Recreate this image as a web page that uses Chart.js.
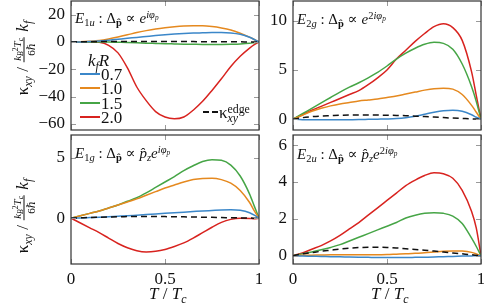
<!DOCTYPE html>
<html>
<head>
<meta charset="utf-8">
<script src="https://cdn.jsdelivr.net/npm/chart.js@4.4.0/dist/chart.umd.min.js"></script>
<style>
  html, body { margin: 0; padding: 0; background: #fff; }
  #wrap { position: relative; width: 484px; height: 307px; overflow: hidden;
          font-family: "Liberation Serif", "DejaVu Serif", serif; color: #111; }
  #wrap canvas { position: absolute; }
  .ov { position: absolute; white-space: nowrap; line-height: 1; }
  .ov sub, .ov sup { font-size: 70%; line-height: 0; position: relative; vertical-align: baseline; }
  .ov sub { top: 0.3em; }
  .ov sup { top: -0.45em; }
  .ttl { font-size: 15px; }
  .ylab { font-size: 17px; transform: translate(-50%, -50%) rotate(-90deg); }
  .frac { display: inline-block; vertical-align: middle; font-size: 11px; text-align: center; margin: 0 1px; }
  .frac .num { display: block; border-bottom: 1px solid #111; padding: 0 1px 1px; }
  .frac .den { display: block; padding-top: 1px; }
  .leg { font-size: 17px; }
  .legline { position: absolute; height: 2px; }
</style>
</head>
<body>
<div id="wrap">
  <canvas id="cTL" width="262" height="131" style="left:0;top:0"></canvas>
  <canvas id="cTR" width="222" height="131" style="left:262px;top:0"></canvas>
  <canvas id="cBL" width="262" height="173" style="left:0;top:134px"></canvas>
  <canvas id="cBR" width="222" height="173" style="left:262px;top:134px"></canvas>
</div>
<script>
// ---- data ----
const T = [0,0.05,0.1,0.15,0.2,0.25,0.3,0.35,0.4,0.45,0.5,0.55,0.6,0.65,0.7,0.75,0.8,0.85,0.9,0.95,0.975,1];
const KFR = ["0.7", "1.0", "1.5", "2.0"];
const COLORS = ["#3b87c9", "#e5891f", "#46a546", "#d8231f"];
const X_TICKS = [0, 0.5, 1];

// E1u
const e1u_07 = [0,0.05,0.3,0.7,1.3,2.0,2.7,3.3,4.0,4.7,5.3,5.8,6.2,6.5,6.7,6.9,6.9,6.6,5.6,3.4,1.8,0];
const e1u_10 = [0,0.1,0.5,1.1,2.2,3.6,5.2,6.9,8.3,9.5,10.4,11.1,11.6,11.8,11.8,11.3,10.3,8.8,6.4,3.5,1.8,0];
const e1u_15 = [0,0,0,-0.05,-0.1,-0.25,-0.4,-0.6,-0.9,-1.1,-1.3,-1.45,-1.6,-1.7,-1.8,-1.85,-1.8,-1.7,-1.5,-1.0,-0.5,0];
const e1u_20 = [0,0,0,-0.3,-2.5,-8,-19,-33,-43,-51,-55,-56.3,-55,-50,-43.5,-35.5,-27,-18,-10.5,-4.5,-2,0];
const e1u_edge = [0,0.1,0.2,0.25,0.3,0.33,0.35,0.36,0.36,0.35,0.33,0.3,0.27,0.24,0.2,0.17,0.13,0.1,0.06,0.03,0.01,0];
const e1u_yticks = [20, 0, -20, -40, -60];

// E2g
const e2g_07 = [0,-0.05,-0.06,-0.07,-0.07,-0.06,-0.05,-0.04,-0.02,0,0.02,0.06,0.15,0.3,0.5,0.7,0.85,0.9,0.8,0.45,0.2,0];
const e2g_10 = [0,0.4,0.8,1.1,1.35,1.55,1.7,1.85,1.95,2.05,2.2,2.35,2.55,2.75,2.95,3.1,3.15,3.05,2.5,1.4,0.7,0];
const e2g_15 = [0,0.55,1.1,1.65,2.2,2.75,3.25,3.7,4.2,4.75,5.4,6.1,6.7,7.2,7.6,7.8,7.7,7.1,5.6,3.3,1.8,0];
const e2g_20 = [0,0.45,0.9,1.3,1.7,2.1,2.5,2.9,3.5,4.2,5.0,6.1,7.0,7.9,8.7,9.4,9.7,9.3,8.0,4.8,2.4,0];
const e2g_edge = [0,0.15,0.25,0.32,0.36,0.4,0.42,0.43,0.43,0.42,0.4,0.38,0.35,0.3,0.26,0.21,0.16,0.11,0.07,0.03,0.015,0];
const e2g_yticks = [10, 5, 0];

// E1g
const e1g_07 = [0,0.02,0.05,0.08,0.12,0.16,0.2,0.25,0.3,0.35,0.4,0.45,0.5,0.55,0.6,0.64,0.68,0.7,0.65,0.45,0.25,0];
const e1g_10 = [0,0.2,0.4,0.6,0.85,1.1,1.35,1.6,1.9,2.2,2.5,2.75,3.0,3.2,3.3,3.32,3.2,2.9,2.3,1.3,0.6,0];
const e1g_15 = [0,0.2,0.4,0.6,0.85,1.1,1.4,1.7,2.1,2.55,3.0,3.45,3.95,4.35,4.7,4.85,4.8,4.4,3.5,2.0,1.0,0];
const e1g_20 = [0,-0.4,-0.8,-1.2,-1.65,-2.1,-2.45,-2.7,-2.8,-2.75,-2.6,-2.35,-2.05,-1.65,-1.2,-0.75,-0.35,-0.1,0,-0.02,-0.05,0];
const e1g_edge = [0,0.03,0.06,0.08,0.1,0.12,0.13,0.14,0.14,0.14,0.13,0.12,0.11,0.1,0.08,0.07,0.05,0.04,0.02,0.01,0.005,0];
const e1g_yticks = [5, 0];

// E2u
const e2u_07 = [0,-0.02,-0.03,-0.04,-0.05,-0.06,-0.07,-0.08,-0.09,-0.1,-0.1,-0.1,-0.1,-0.09,-0.08,-0.07,-0.05,-0.04,-0.02,-0.01,0,0];
const e2u_10 = [0,0.02,0.03,0.04,0.05,0.05,0.05,0.05,0.05,0.05,0.06,0.08,0.1,0.13,0.16,0.2,0.24,0.26,0.25,0.18,0.1,0];
const e2u_15 = [0,0.1,0.2,0.32,0.45,0.6,0.8,1.0,1.2,1.4,1.6,1.8,2.05,2.2,2.3,2.33,2.3,2.15,1.75,0.95,0.5,0];
const e2u_20 = [0,0.15,0.35,0.55,0.8,1.1,1.45,1.8,2.2,2.6,3.0,3.4,3.8,4.1,4.35,4.5,4.45,4.2,3.55,2.4,1.5,0];
const e2u_edge = [0,0.1,0.17,0.24,0.3,0.36,0.41,0.44,0.46,0.46,0.45,0.42,0.38,0.34,0.3,0.25,0.2,0.15,0.1,0.05,0.02,0];
const e2u_yticks = [6, 4, 2, 0];

// ---- helpers ----
const FONT = "'Liberation Serif', 'DejaVu Serif', serif";

// frame + inward ticks on all four sides (pgfplots look)
const framePlugin = {
  id: "frame",
  afterDraw(chart) {
    const { ctx, chartArea: a, scales } = chart;
    ctx.save();
    ctx.strokeStyle = "#9a9a9a";
    ctx.lineWidth = 1;
    const L = 5;
    ctx.beginPath();
    scales.x.ticks.forEach(t => {
      const px = Math.round(scales.x.getPixelForValue(t.value)) + 0.5;
      ctx.moveTo(px, a.top); ctx.lineTo(px, a.top + L);
      ctx.moveTo(px, a.bottom); ctx.lineTo(px, a.bottom - L);
    });
    scales.y.ticks.forEach(t => {
      const py = Math.round(scales.y.getPixelForValue(t.value)) + 0.5;
      ctx.moveTo(a.left, py); ctx.lineTo(a.left + L, py);
      ctx.moveTo(a.right, py); ctx.lineTo(a.right - L, py);
    });
    ctx.stroke();
    ctx.strokeStyle = "#333";
    ctx.lineWidth = 1.2;
    ctx.strokeRect(a.left, a.top, a.right - a.left, a.bottom - a.top);
    ctx.restore();
  }
};

function makePanel(id, series, edge, yMin, yMax, yTicks, yWidth, showX) {
  const ds = [{
    data: edge, borderColor: "#111", borderDash: [6, 4]
  }].concat(series.map((s, i) => ({ data: s, borderColor: COLORS[i] })));
  ds.forEach(d => { d.borderWidth = 1.5; d.pointRadius = 0; d.fill = false; d.cubicInterpolationMode = "monotone"; });

  return new Chart(document.getElementById(id), {
    type: "line",
    data: { labels: T, datasets: ds },
    options: {
      responsive: false, maintainAspectRatio: false, animation: false, events: [],
      layout: { padding: { top: 1, right: 3, bottom: showX ? 0 : 1, left: 0 } },
      plugins: { legend: { display: false }, tooltip: { enabled: false } },
      scales: {
        x: {
          type: "linear", min: 0, max: 1,
          display: showX,
          afterBuildTicks: s => { s.ticks = X_TICKS.map(v => ({ value: v })); },
          afterFit: s => { s.height = showX ? 43 : 0; s.paddingLeft = 0; s.paddingRight = 0; },
          grid: { display: false, drawTicks: false },
          border: { display: false },
          ticks: { padding: 5, maxRotation: 0, color: "#111", font: { family: FONT, size: 17 },
                   callback: v => String(v) }
        },
        y: {
          min: yMin, max: yMax,
          afterBuildTicks: s => { s.ticks = yTicks.map(v => ({ value: v })); },
          afterFit: s => { s.width = yWidth; s.paddingTop = 0; s.paddingBottom = 0; },
          grid: { display: false, drawTicks: false },
          border: { display: false },
          ticks: { padding: 6, color: "#111", font: { family: FONT, size: 17 },
                   callback: v => (v < 0 ? "\u2212" + Math.abs(v) : String(v)) }
        }
      }
    },
    plugins: [framePlugin]
  });
}

makePanel("cTL", [e1u_07, e1u_10, e1u_15, e1u_20], e1u_edge, -64.5, 30, e1u_yticks, 71, false);
makePanel("cTR", [e2g_07, e2g_10, e2g_15, e2g_20], e2g_edge, -1.1, 12, e2g_yticks, 31, false);
makePanel("cBL", [e1g_07, e1g_10, e1g_15, e1g_20], e1g_edge, -3.8, 6.9, e1g_yticks, 71, true);
makePanel("cBR", [e2u_07, e2u_10, e2u_15, e2u_20], e2u_edge, -0.45, 6.55, e2u_yticks, 31, true);

// ---- text overlays (titles, axis labels, legend) ----
const wrap = document.getElementById("wrap");
function addText(html, cls, left, top) {
  const d = document.createElement("div");
  d.className = "ov " + cls;
  d.innerHTML = html;
  d.style.left = left + "px";
  d.style.top = top + "px";
  wrap.appendChild(d);
  return d;
}
const DP = "\u0394<sub><b>p\u0302</b></sub>";
addText("<i>E</i><sub>1<i>u</i></sub> : " + DP + " \u221D <i>e</i><sup><i>i\u03C6<sub>p</sub></i></sup>", "ttl", 75, 11);
addText("<i>E</i><sub>2<i>g</i></sub> : " + DP + " \u221D <i>e</i><sup>2<i>i\u03C6<sub>p</sub></i></sup>", "ttl", 297, 12);
addText("<i>E</i><sub>1<i>g</i></sub> : " + DP + " \u221D <i>p\u0302<sub>z</sub>e</i><sup><i>i\u03C6<sub>p</sub></i></sup>", "ttl", 75, 146);
addText("<i>E</i><sub>2<i>u</i></sub> : " + DP + " \u221D <i>p\u0302<sub>z</sub>e</i><sup>2<i>i\u03C6<sub>p</sub></i></sup>", "ttl", 297, 147);

const YLAB = "\u03BA<sub><i>xy</i></sub> / <span class='frac'><span class='num'><i>k</i><sub><i>B</i></sub><sup>2</sup><i>T<sub>c</sub></i></span><span class='den'>6\u210F</span></span> <i>k<sub>f</sub></i>";
addText(YLAB, "ylab", 24, 58);
addText(YLAB, "ylab", 24, 216);

const XLAB = "<i>T</i> / <i>T<sub>c</sub></i>";
addText(XLAB, "leg", 149, 285);
addText(XLAB, "leg", 371, 285);

// legend in the E1u panel
addText("<i>k<sub>f</sub>R</i>", "leg", 88, 52);
const legY = [74, 88, 103, 117];
KFR.forEach((lab, i) => {
  const ln = document.createElement("div");
  ln.className = "legline";
  ln.style.left = "80px"; ln.style.top = (legY[i] - 1) + "px"; ln.style.width = "20px";
  ln.style.background = COLORS[i];
  wrap.appendChild(ln);
  addText(lab, "leg", 101, legY[i] - 8);
});
const dash = document.createElement("div");
dash.className = "legline";
dash.style.left = "203px"; dash.style.top = "111px"; dash.style.width = "15px";
dash.style.background = "repeating-linear-gradient(90deg, #111 0 6px, transparent 6px 9px)";
wrap.appendChild(dash);
addText("\u03BA<sub><i>xy</i></sub><sup style='margin-left:-0.9em'>edge</sup>", "leg", 219, 104);
</script>
</body>
</html>
